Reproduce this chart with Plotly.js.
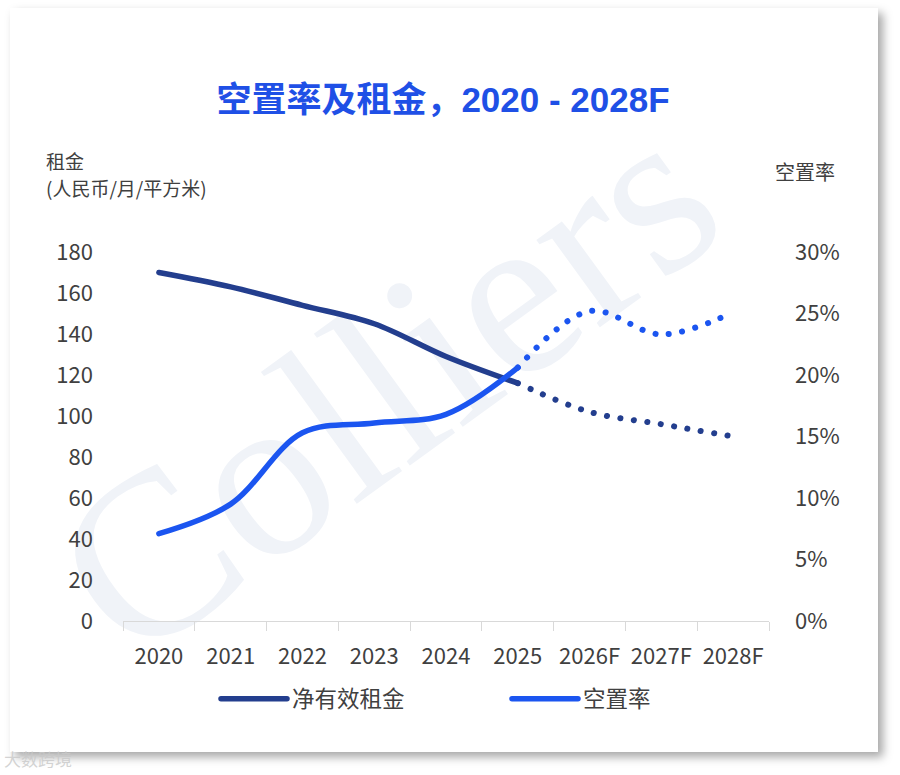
<!DOCTYPE html>
<html>
<head>
<meta charset="utf-8">
<script src="https://cdn.plot.ly/plotly-3.0.1.min.js"></script>
<style>
  body { margin: 0; background: #ffffff; }
  #card {
    position: absolute; left: 10px; top: 8px; width: 868px; height: 744px;
    background: #ffffff; box-shadow: 5px 5px 9px rgba(0,0,0,0.35);
  }
  #mark {
    position: absolute; left: 14px; top: 268px;
    font-family: 'Liberation Serif', 'DejaVu Serif', serif; font-size: 235px;
    color: #f0f3f8; transform: rotate(-36deg); transform-origin: 50% 50%;
    white-space: nowrap; line-height: 1;
  }
  #repost {
    position: absolute; left: 4px; top: 746px;
    font-family: 'Noto Sans CJK SC', sans-serif; font-size: 17px; color: rgba(200,200,200,0.8);
  }
  #myPlot { position: absolute; left: 0; top: 0; width: 900px; height: 775px; }
  path.js-line { stroke-linecap: round; }
</style>
</head>
<body>
<div id="card"></div>
<div id="mark">Colliers</div>
<div id="repost">大数跨境</div>
<div id="myPlot"></div>
<script>
// values
const years = ['2020', '2021', '2022', '2023', '2024', '2025', '2026F', '2027F', '2028F'];
const rent = [170, 163, 154, 145, 129, 116, 102, 96, 90];
const vacancy = [0.071, 0.095, 0.153, 0.161, 0.168, 0.206, 0.252, 0.233, 0.251];
const names = ['净有效租金', '空置率'];

const cut = 5; // 2025 is the last actual year, after it the forecast is dotted
const rentColor = '#233e8e';
const vacColor = '#1b55f0';
const txt = '#404040';
const cjk = "'Noto Sans CJK SC', 'Noto Sans', sans-serif";

var trace1 = {
  x: years.slice(0, cut + 1),
  y: rent.slice(0, cut + 1),
  name: names[0],
  type: 'scatter',
  mode: 'lines',
  line: { color: rentColor, width: 5.5, shape: 'spline', smoothing: 1 },
  hoverinfo: 'skip'
};
var trace2 = {
  x: years.slice(cut),
  y: rent.slice(cut),
  name: names[0],
  type: 'scatter',
  mode: 'lines',
  showlegend: false,
  line: { color: rentColor, width: 6, shape: 'spline', smoothing: 1, dash: '0.1px,13.5px' },
  hoverinfo: 'skip'
};
var trace3 = {
  x: years.slice(0, cut + 1),
  y: vacancy.slice(0, cut + 1),
  yaxis: 'y2',
  name: names[1],
  type: 'scatter',
  mode: 'lines',
  line: { color: vacColor, width: 5.5, shape: 'spline', smoothing: 1 },
  hoverinfo: 'skip'
};
var trace4 = {
  x: years.slice(cut),
  y: vacancy.slice(cut),
  yaxis: 'y2',
  name: names[1],
  type: 'scatter',
  mode: 'lines',
  showlegend: false,
  line: { color: vacColor, width: 6, shape: 'spline', smoothing: 1, dash: '0.1px,13.5px' },
  hoverinfo: 'skip'
};
var data = [trace1, trace2, trace3, trace4];

var layout = {
  width: 900,
  height: 775,
  paper_bgcolor: 'rgba(0,0,0,0)',
  plot_bgcolor: 'rgba(0,0,0,0)',
  margin: { l: 123, r: 131, t: 252, b: 154 },
  font: { family: cjk, color: txt },
  title: {
    text: '空置率及租金，2020 - 2028F',
    font: { family: "'Liberation Sans', 'Noto Sans CJK SC', sans-serif", size: 35, color: '#1f50e6', weight: 'bold' },
    xref: 'container',
    x: 443 / 900,
    xanchor: 'center',
    y: 1 - 100 / 775,
    yanchor: 'middle'
  },
  xaxis: {
    type: 'category',
    categoryorder: 'array',
    categoryarray: years,
    range: [-0.5, years.length - 0.5],
    showline: true,
    linecolor: '#d9d9d9',
    linewidth: 1,
    showgrid: false,
    zeroline: false,
    ticks: 'outside',
    tickson: 'boundaries',
    ticklen: 9,
    tickcolor: '#d9d9d9',
    tickfont: { family: cjk, size: 22, color: txt },
    ticklabelstandoff: 16,
    fixedrange: true
  },
  yaxis: {
    range: [0, 180],
    dtick: 20,
    showgrid: false,
    zeroline: false,
    showline: false,
    tickfont: { family: cjk, size: 22, color: txt },
    ticklabelstandoff: 29,
    fixedrange: true
  },
  yaxis2: {
    overlaying: 'y',
    side: 'right',
    range: [0, 0.30],
    dtick: 0.05,
    tickformat: '.0%',
    showgrid: false,
    zeroline: false,
    showline: false,
    tickfont: { family: cjk, size: 22, color: txt },
    ticklabelstandoff: 25,
    fixedrange: true
  },
  showlegend: true,
  legend: {
    orientation: 'h',
    x: (216 - 123) / 646,
    xanchor: 'left',
    y: (621 - 699) / 369,
    yanchor: 'middle',
    font: { family: cjk, size: 22.5, color: txt },
    itemwidth: 66,
    entrywidth: 210,
    entrywidthmode: 'pixels',
    bgcolor: 'rgba(0,0,0,0)'
  },
  annotations: [
    {
      text: '租金',
      xref: 'paper', yref: 'paper',
      x: (45 - 123) / 646, xanchor: 'left',
      y: (621 - 160) / 369, yanchor: 'middle',
      borderpad: 0,
      showarrow: false,
      font: { family: cjk, size: 19, color: txt }
    },
    {
      text: '(人民币/月/平方米)',
      xref: 'paper', yref: 'paper',
      x: (45 - 123) / 646, xanchor: 'left',
      y: (621 - 187) / 369, yanchor: 'middle',
      borderpad: 0,
      showarrow: false,
      font: { family: cjk, size: 19, color: txt }
    },
    {
      text: '空置率',
      xref: 'paper', yref: 'paper',
      x: (805 - 123) / 646, xanchor: 'center',
      y: (621 - 171) / 369, yanchor: 'middle',
      showarrow: false,
      font: { family: cjk, size: 20, color: txt }
    }
  ]
};

Plotly.newPlot('myPlot', data, layout, { displayModeBar: false, staticPlot: true });
</script>
</body>
</html>
